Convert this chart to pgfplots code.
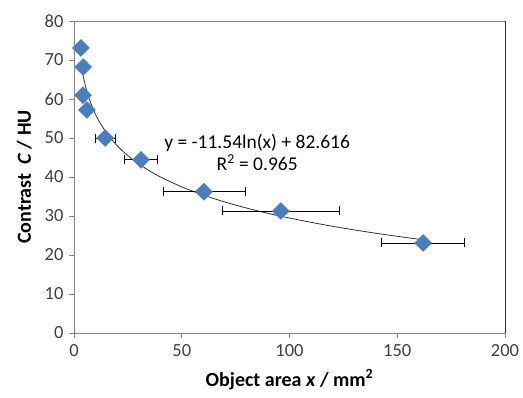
\documentclass[border=0pt]{standalone}
\usepackage{pgfplots}
\pgfplotsset{compat=1.18}
\usepackage{fontspec}
\setmainfont{Carlito}
\definecolor{excelblue}{HTML}{4A7EBB}
\definecolor{axgray}{HTML}{868686}
\definecolor{txtgray}{HTML}{404040}
\begin{document}
\begin{tikzpicture}
\begin{axis}[
  name=ax,
  scale only axis,
  width=431pt, height=312pt,
  xmin=0, xmax=200, ymin=0, ymax=80,
  xtick={0,50,...,200}, ytick={0,10,...,80},
  tick pos=left, tick align=outside,
  major tick length=5pt,
  axis line style={axgray, line width=0.9pt},
  every tick/.style={axgray, line width=0.9pt},
  tick label style={font=\fontsize{18.5}{20}\selectfont, text=txtgray},
  xticklabel style={yshift=-3pt},
  yticklabel style={xshift=-2pt},
  /pgf/number format/assume math mode=true,
  xlabel={\textbf{Object area \textit{x} / mm\textsuperscript{2}}},
  ylabel={\textbf{Contrast\ \ \textit{C} / HU}},
  label style={font=\fontsize{20}{22}\selectfont},
  xlabel style={yshift=-6pt},
  ylabel style={yshift=6pt},
  clip=false,
]
% trendline (logarithmic fit)
\addplot[black!80, line width=0.8pt, smooth] coordinates {
(3.8,67.21)(4.5,65.26)(5,64.04)(6,61.94)(7,60.16)(8,58.62)(10,56.04)(12,53.94)
(15,51.37)(18,49.26)(22,46.94)(26,45.02)(30,43.37)(35,41.59)(40,40.04)(50,37.47)
(60,35.37)(70,33.59)(80,32.05)(90,30.68)(100,29.47)(115,27.86)(130,26.44)(145,25.18)(162,23.90)};
% data with horizontal error bars
\addplot[only marks, mark=square*, mark size=6pt,
  mark options={rotate=45, fill=excelblue, draw=excelblue},
  error bars/.cd, x dir=both, x explicit,
  error bar style={black, line width=0.7pt},
  error mark options={black, mark size=4.5pt, line width=0.7pt, rotate=90}]
coordinates {
(3.2,73.1) +- (0,0)
(4.2,68.2) +- (0,0)
(4.2,61.0) +- (0,0)
(6.0,57.2) +- (0,0)
(14.4,50.0) +- (4.6,0)
(31.1,44.4) +- (7.7,0)
(60.3,36.2) +- (19,0)
(96,31.3) +- (27,0)
(162,23.1) +- (19.3,0)
};
\node[font=\fontsize{19.5}{22}\selectfont, align=center, text=black] at (axis cs:85,46.2)
  {y = -11.54ln(x) + 82.616\\R\textsuperscript{2} = 0.965};
\draw[axgray, line width=0.9pt] (rel axis cs:0,1) -- (rel axis cs:1,1);
\draw[black!80, line width=0.9pt] (rel axis cs:1,0) -- (rel axis cs:1,1);
\end{axis}
\pgfresetboundingbox
\path[use as bounding box] ([shift={(-74pt,-64pt)}]ax.south west) rectangle ([shift={(18pt,21pt)}]ax.north east);
\end{tikzpicture}
\end{document}
